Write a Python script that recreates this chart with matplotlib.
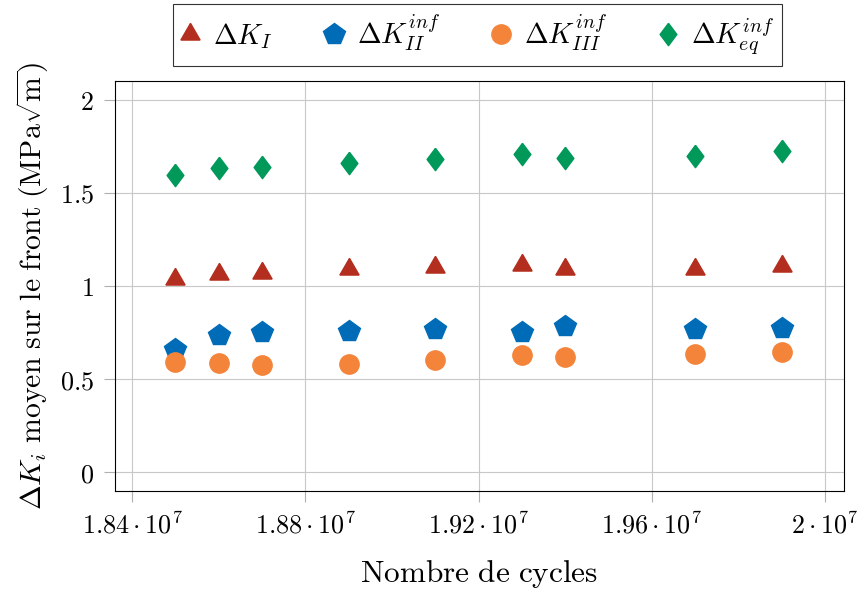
import matplotlib
matplotlib.use("Agg")
import matplotlib.pyplot as plt

plt.rcParams['mathtext.fontset'] = 'cm'
plt.rcParams['font.family'] = 'serif'
plt.rcParams['font.serif'] = ['DejaVu Serif']

cycles = [1.85e7, 1.86e7, 1.87e7, 1.89e7, 1.91e7, 1.93e7, 1.94e7, 1.97e7, 1.99e7]
dK_I = [1.039, 1.066, 1.072, 1.089, 1.102, 1.113, 1.091, 1.093, 1.109]
dK_II = [0.662, 0.739, 0.753, 0.759, 0.769, 0.753, 0.784, 0.768, 0.773]
dK_III = [0.594, 0.587, 0.575, 0.584, 0.605, 0.632, 0.620, 0.634, 0.646]
dK_eq = [1.598, 1.635, 1.638, 1.662, 1.681, 1.707, 1.685, 1.697, 1.724]

labels = [r'$\Delta K_I$', r'$\Delta K_{II}^{inf}$', r'$\Delta K_{III}^{inf}$', r'$\Delta K_{eq}^{inf}$']
xticks = [1.84e7, 1.88e7, 1.92e7, 1.96e7, 2.0e7]
xticklabels = [r'$1.84\cdot10^7$', r'$1.88\cdot10^7$', r'$1.92\cdot10^7$', r'$1.96\cdot10^7$', r'$2\cdot10^7$']
yticks = [0, 0.5, 1, 1.5, 2]
yticklabels = [r'$0$', r'$0.5$', r'$1$', r'$1.5$', r'$2$']

c_red = '#B32E1E'
c_blue = '#006CB8'
c_orange = '#F4843A'
c_green = '#00995A'

diamond = [(0, 1), (0.75, 0), (0, -1), (-0.75, 0), (0, 1)]

fig = plt.figure(figsize=(8.58, 5.96), dpi=100)
ax = fig.add_axes([0.1336, 0.1762, 0.9833 - 0.1336, 0.8641 - 0.1762])

ax.plot(cycles, dK_I, linestyle='none', marker=(3, 0, 0), markersize=16, color=c_red, label=labels[0])
ax.plot(cycles, dK_II, linestyle='none', marker='p', markersize=15.9, color=c_blue, label=labels[1])
ax.plot(cycles, dK_III, linestyle='none', marker='o', markersize=13.9, color=c_orange, label=labels[2])
ax.plot(cycles, dK_eq, linestyle='none', marker=diamond, markersize=16.1, color=c_green, label=labels[3])

ax.set_xlim(1.8360e7, 2.0043e7)
ax.set_ylim(-0.1, 2.1)
ax.set_xticks(xticks)
ax.set_xticklabels(xticklabels, fontsize=18.8)
ax.set_yticks(yticks)
ax.set_yticklabels(yticklabels, fontsize=18.8)
ax.grid(True, color='#c8c8c8', linewidth=0.8)
ax.set_axisbelow(True)
ax.tick_params(direction='out', length=8, width=0.8, color='#b0b0b0', pad=7)
for s in ax.spines.values():
    s.set_linewidth(0.8)
    s.set_color('black')

ax.set_xlabel(r'$\mathrm{Nombre\ de\ cycles}$', fontsize=22.5, labelpad=14)
ax.set_ylabel(r'$\Delta K_i\ \mathrm{moyen\ sur\ le\ front\ (MPa}\sqrt{\mathrm{m}}\mathrm{)}$', fontsize=21.4, labelpad=6)

leg = fig.legend(loc='upper center', bbox_to_anchor=(477.5 / 858, 1 - 4 / 596), ncol=4, fontsize=20.5,
                 frameon=True, fancybox=False, edgecolor='black', handlelength=0.6,
                 handletextpad=0.51, columnspacing=1.84, borderpad=0.3, borderaxespad=0.0,
                 markerscale=1.0)
leg.get_frame().set_linewidth(0.8)

fig.savefig('out.png', dpi=100)
